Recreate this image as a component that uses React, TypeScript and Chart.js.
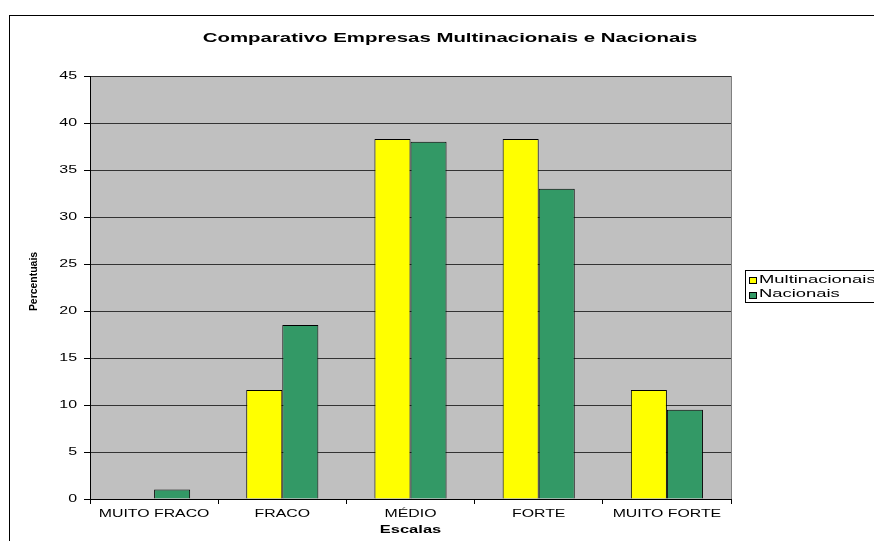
import React, { useEffect, useRef } from "react";
import { Chart, registerables } from "chart.js";

Chart.register(...registerables);

const TITLE = "Comparativo Empresas Multinacionais e Nacionais";
const X_TITLE = "Escalas";
const Y_TITLE = "Percentuais";
const categories = ["MUITO FRACO", "FRACO", "MÉDIO", "FORTE", "MUITO FORTE"];
const seriesNames = ["Multinacionais", "Nacionais"];
const multinacionais = [0, 11.6, 38.3, 38.3, 11.6];
const nacionais = [1, 18.5, 38, 33, 9.5];
const yTicks = [0, 5, 10, 15, 20, 25, 30, 35, 40, 45];
const seriesColors = ["#FFFF00", "#339966"];

const FONT = "'Liberation Sans', Arial, sans-serif";

function drawStretched(
  ctx: CanvasRenderingContext2D,
  text: string,
  x: number,
  y: number,
  font: string,
  sx: number,
  align: "left" | "center" | "right"
) {
  ctx.save();
  ctx.font = font;
  ctx.fillStyle = "#000";
  ctx.textBaseline = "middle";
  ctx.textAlign = "left";
  const w = ctx.measureText(text).width * sx;
  let left = x;
  if (align === "center") left = x - w / 2;
  else if (align === "right") left = x - w;
  ctx.translate(left, y);
  ctx.scale(sx, 1);
  ctx.fillText(text, 0, 0);
  ctx.restore();
}

const decor = {
  id: "decor",
  beforeDraw(chart: any) {
    const { ctx, chartArea: a } = chart;
    ctx.save();
    ctx.fillStyle = "#fff";
    ctx.fillRect(0, 0, chart.width, chart.height);
    ctx.strokeStyle = "#000";
    ctx.lineWidth = 1;
    ctx.strokeRect(9.5, 15.5, chart.width + 100, chart.height + 100);
    ctx.fillStyle = "#C0C0C0";
    ctx.fillRect(a.left, a.top, a.right - a.left, a.bottom - a.top);
    ctx.strokeStyle = "#808080";
    ctx.strokeRect(a.left + 0.5, a.top + 0.5, a.right - a.left, a.bottom - a.top);
    ctx.restore();
  },
  afterDraw(chart: any) {
    const { ctx, chartArea: a } = chart;
    const xs = chart.scales.x;
    const ys = chart.scales.y;
    // title
    drawStretched(ctx, TITLE, 450, 38, `bold 13px ${FONT}`, 1.57, "center");
    // y tick labels
    yTicks.forEach((v) => {
      drawStretched(ctx, String(v), a.left - 13, ys.getPixelForValue(v), `11px ${FONT}`, 1.45, "right");
    });
    // x tick labels
    categories.forEach((c, i) => {
      drawStretched(ctx, c, xs.getPixelForValue(i), 514, `11px ${FONT}`, 1.44, "center");
    });
    // x title
    drawStretched(ctx, X_TITLE, (a.left + a.right) / 2, 530, `bold 11px ${FONT}`, 1.5, "center");
    // y title (rotated)
    ctx.save();
    ctx.translate(34, (a.top + a.bottom) / 2 - 6);
    ctx.rotate(-Math.PI / 2);
    drawStretched(ctx, Y_TITLE, 0, 0, `bold 11px ${FONT}`, 0.95, "center");
    ctx.restore();
    // legend
    const lx = 745;
    const ly = 270;
    ctx.save();
    ctx.fillStyle = "#fff";
    ctx.fillRect(lx, ly, chart.width - lx + 50, 32);
    ctx.strokeStyle = "#000";
    ctx.lineWidth = 1;
    ctx.strokeRect(lx + 0.5, ly + 0.5, chart.width - lx + 50, 32);
    ctx.restore();
    chart.data.datasets.forEach((ds: any, i: number) => {
      const cy = 280 + i * 14.5;
      ctx.save();
      ctx.fillStyle = ds.backgroundColor;
      ctx.fillRect(749, Math.round(cy - 3), 7, 6);
      ctx.strokeStyle = "#000";
      ctx.lineWidth = 1;
      ctx.strokeRect(749.5, Math.round(cy - 3) + 0.5, 7, 6);
      ctx.restore();
      drawStretched(ctx, ds.label, 759, cy - 0.5, `11.5px ${FONT}`, 1.6, "left");
    });
  },
};

export default function App() {
  const ref = useRef<HTMLCanvasElement | null>(null);
  useEffect(() => {
    if (!ref.current) return;
    const chart = new Chart(ref.current, {
      type: "bar",
      data: {
        labels: categories,
        datasets: [
          {
            label: seriesNames[0],
            data: multinacionais,
            backgroundColor: seriesColors[0],
            borderColor: "#000",
            borderWidth: 1,
            categoryPercentage: 0.5625,
            barPercentage: 1,
          },
          {
            label: seriesNames[1],
            data: nacionais,
            backgroundColor: seriesColors[1],
            borderColor: "#000",
            borderWidth: 1,
            categoryPercentage: 0.5625,
            barPercentage: 1,
          },
        ],
      },
      options: {
        responsive: false,
        animation: false,
        devicePixelRatio: 1,
        layout: { padding: { left: 84, top: 76, right: 143, bottom: 37 } },
        plugins: {
          legend: { display: false },
          title: { display: false },
          tooltip: { enabled: false },
        },
        scales: {
          x: {
            offset: true,
            grid: {
              offset: true,
              drawOnChartArea: false,
              drawTicks: true,
              tickLength: 5,
              tickColor: "#000",
            },
            border: { color: "#000", width: 1 },
            ticks: { display: false },
            afterFit: (s: any) => {
              s.height = 5;
            },
          },
          y: {
            min: 0,
            max: 45,
            afterBuildTicks: (s: any) => {
              s.ticks = yTicks.map((v) => ({ value: v }));
            },
            grid: {
              color: "#333",
              lineWidth: 1,
              drawTicks: true,
              tickLength: 6,
              tickColor: "#000",
            },
            border: { color: "#000", width: 1 },
            ticks: { display: false },
            afterFit: (s: any) => {
              s.width = 6;
            },
          },
        },
      },
      plugins: [decor],
    });
    return () => chart.destroy();
  }, []);
  return (
    <div style={{ position: "fixed", left: 0, top: 0, width: 874, height: 541, overflow: "hidden", background: "#fff" }}>
      <canvas ref={ref} width={874} height={541} style={{ display: "block" }} />
    </div>
  );
}
